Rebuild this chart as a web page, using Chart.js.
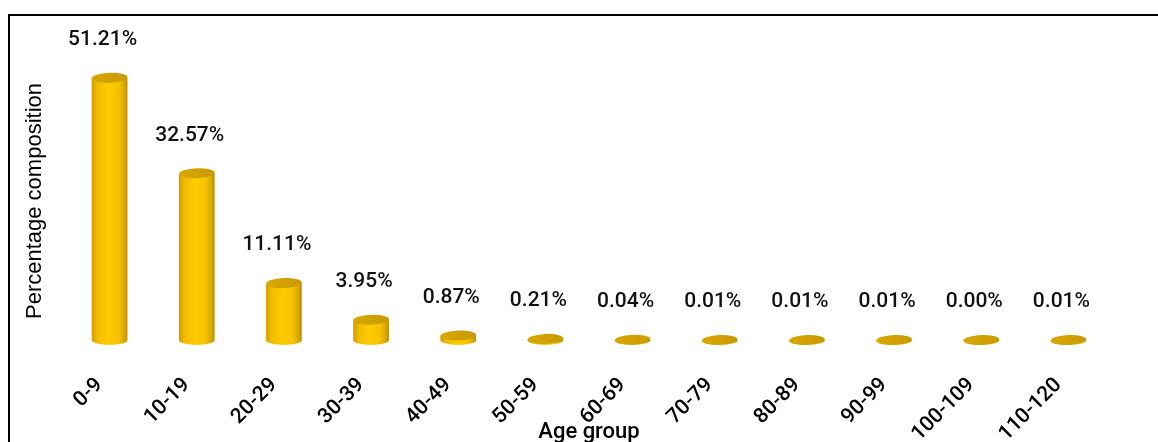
<!DOCTYPE html>
<html>
<head>
<meta charset="utf-8">
<script src="https://cdn.jsdelivr.net/npm/chart.js@4/dist/chart.umd.min.js"></script>
<style>
  html, body { margin: 0; padding: 0; background: #fff; overflow: hidden; }
  #moldura { position: absolute; left: 8px; top: 14px; width: 2000px; height: 1000px;
             border-top: 2px solid #000; border-left: 2px solid #000; }
  #grafico { position: absolute; left: 0; top: 0; }
</style>
</head>
<body>
<div id="moldura"></div>
<canvas id="grafico" width="1158" height="442"></canvas>
<script>
const faixas = ["0-9", "10-19", "20-29", "30-39", "40-49", "50-59", "60-69", "70-79", "80-89", "90-99", "100-109", "110-120"];
const percentuais = [51.21, 32.57, 11.11, 3.95, 0.87, 0.21, 0.04, 0.01, 0.01, 0.01, 0.00, 0.01];
const tituloX = "Age group";
const tituloY = "Percentage composition";

const fonteEixo = 'Roboto, "DejaVu Sans Condensed", sans-serif';
const fonteTexto = '"Liberation Sans", Arial, sans-serif';

// desenha as barras como cilindros e escreve os rótulos por cima
const cilindros = {
  id: "cilindros",
  afterDatasetsDraw(chart) {
    const ctx = chart.ctx;
    const meta = chart.getDatasetMeta(0);
    meta.data.forEach((barra, i) => {
      const { x, y, base, width } = barra.getProps(["x", "y", "base", "width"], true);
      const rx = width / 2;
      const ry = rx * 0.28;

      ctx.save();
      const corpo = ctx.createLinearGradient(x - rx, 0, x + rx, 0);
      corpo.addColorStop(0, "#D09C00");
      corpo.addColorStop(0.15, "#F0BC00");
      corpo.addColorStop(0.45, "#FFCB00");
      corpo.addColorStop(0.75, "#F6C200");
      corpo.addColorStop(0.92, "#D8A500");
      corpo.addColorStop(1, "#B88C00");
      ctx.fillStyle = corpo;
      ctx.beginPath();
      ctx.moveTo(x - rx, y);
      ctx.lineTo(x - rx, base);
      ctx.ellipse(x, base, rx, ry, 0, Math.PI, 0, true);
      ctx.lineTo(x + rx, y);
      ctx.closePath();
      ctx.fill();

      const tampa = ctx.createLinearGradient(x - rx, 0, x + rx, 0);
      tampa.addColorStop(0, "#D8A700");
      tampa.addColorStop(1, "#C99A00");
      ctx.fillStyle = tampa;
      ctx.beginPath();
      ctx.ellipse(x, y, rx, ry, -0.04, 0, Math.PI * 2);
      ctx.fill();

      ctx.fillStyle = "#111";
      ctx.font = "500 21px " + fonteEixo;
      ctx.textAlign = "center";
      ctx.textBaseline = "middle";
      ctx.fillText(percentuais[i].toFixed(2) + "%", x - 7, y - 38);
      ctx.restore();
    });
  }
};

new Chart(document.getElementById("grafico"), {
  type: "bar",
  data: {
    labels: faixas,
    datasets: [
      {
        data: percentuais,
        backgroundColor: "rgba(0,0,0,0)",
        categoryPercentage: 1,
        barPercentage: 0.41
      }
    ]
  },
  options: {
    responsive: false,
    animation: false,
    devicePixelRatio: 1,
    layout: { padding: { left: 20, right: 46, top: 62, bottom: 0 } },
    plugins: {
      legend: { display: false },
      tooltip: { enabled: false }
    },
    scales: {
      x: {
        grid: { display: false },
        border: { display: false },
        ticks: {
          color: "#000",
          font: { family: fonteEixo, size: 21, weight: "500" },
          minRotation: 45,
          maxRotation: 45,
          padding: 25,
          labelOffset: -10
        },
        title: {
          display: true,
          text: tituloX,
          color: "#000",
          font: { family: fonteEixo, size: 22, weight: "500" },
          padding: { top: 0, bottom: -4 }
        },
        afterFit(escala) { escala.height = 102; }
      },
      y: {
        min: 0,
        max: 54.3,
        grid: { display: false },
        border: { display: false },
        ticks: { display: false },
        title: {
          display: true,
          text: tituloY,
          color: "#000",
          font: { family: fonteTexto, size: 22 },
          padding: { top: 2, bottom: 0 }
        },
        afterFit(escala) { escala.width = 46; }
      }
    }
  },
  plugins: [cilindros]
});
</script>
</body>
</html>
